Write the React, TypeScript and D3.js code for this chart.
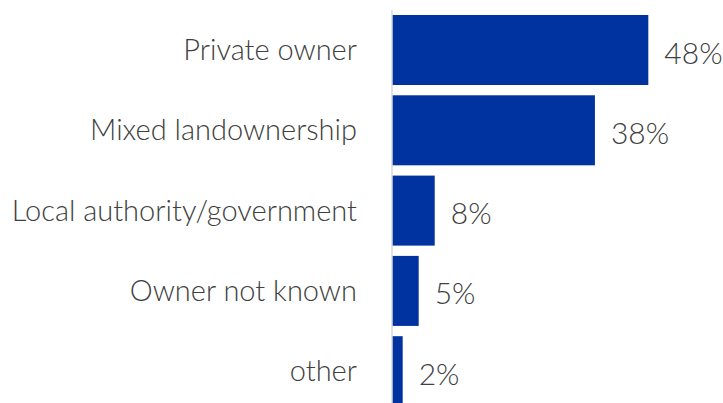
import React from "react";
import * as d3 from "d3";

const categories = [
  "Private owner",
  "Mixed landownership",
  "Local authority/government",
  "Owner not known",
  "other",
];
const values = [48, 38, 8, 5, 2];

const W = 723;
const H = 403;
const AXIS_X = 392;

export default function App() {
  const x = d3.scaleLinear().domain([0, 50]).range([AXIS_X, AXIS_X + 267]);
  const y = d3
    .scaleBand<string>()
    .domain(categories)
    .range([9.85, 9.85 + 5 * 80.3])
    .paddingInner(0.128)
    .paddingOuter(0.064);

  const font = "Lato, 'Open Sans', sans-serif";

  return (
    <svg
      width={W}
      height={H}
      style={{ position: "absolute", left: 0, top: 0, display: "block" }}
    >
      <rect width={W} height={H} fill="#fff" />
      {categories.map((c, i) => {
        const yy = y(c)!;
        const bw = y.bandwidth();
        return (
          <g key={c}>
            <rect
              x={x(0)}
              y={yy}
              width={x(values[i]) - x(0)}
              height={bw}
              fill="#0033a0"
            />
            <text
              x={357}
              y={yy + bw / 2}
              dy="0.35em"
              textAnchor="end"
              fontFamily={font}
              fontWeight={300}
              fontSize={29}
              fill="#404040"
            >
              {c}
            </text>
            <text
              x={x(values[i]) + 16}
              y={yy + bw / 2 + 3}
              dy="0.35em"
              textAnchor="start"
              fontFamily={font}
              fontWeight={300}
              fontSize={30}
              fill="#404040"
            >
              {values[i]}%
            </text>
          </g>
        );
      })}
      <line
        x1={AXIS_X}
        x2={AXIS_X}
        y1={10}
        y2={H}
        stroke="#d9d9d9"
        strokeWidth={1.5}
      />
    </svg>
  );
}
